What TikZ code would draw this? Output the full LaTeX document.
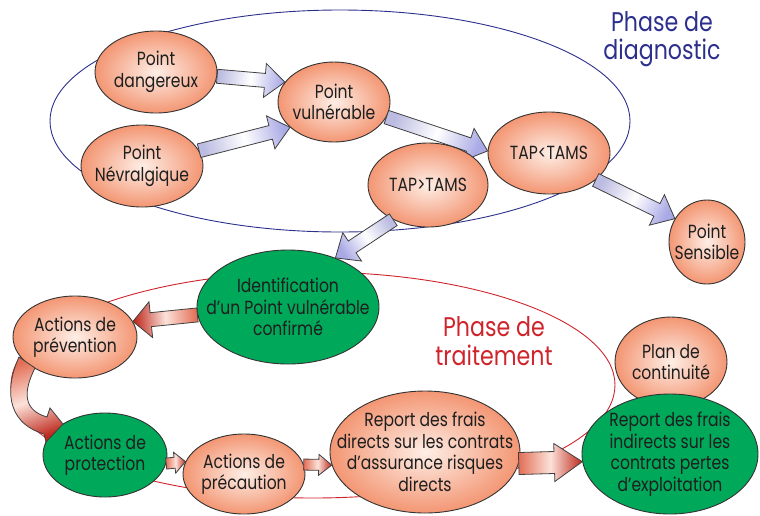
\documentclass[tikz,border=0pt]{standalone}
\usepackage{fontspec}
\setmainfont{Poppins}[FakeStretch=0.82]
\usetikzlibrary{calc,shapes.geometric}
\pgfdeclarelayer{bg}
\pgfsetlayers{bg,main}
\definecolor{salm}{RGB}{243,150,115}
\definecolor{salmin}{RGB}{254,238,230}
\definecolor{grn}{RGB}{0,168,90}
\definecolor{lav}{RGB}{188,188,226}
\definecolor{redS}{RGB}{226,110,86}
\definecolor{redE}{RGB}{190,40,28}
\definecolor{redM}{RGB}{252,226,218}
\definecolor{phblue}{RGB}{44,48,140}
\definecolor{phred}{RGB}{208,36,44}
\definecolor{txt}{RGB}{30,30,30}
\newcommand{\barrow}[6]{%
  \coordinate (bN) at ($(#3)!#6!(#2)$);
  \path[#1] ($(#2)!#4!90:(#3)$) -- ($(bN)!#4!-90:(#2)$) -- ($(bN)!#5!-90:(#2)$) -- (#3)
    -- ($(bN)!#5!90:(#2)$) -- ($(bN)!#4!90:(#2)$) -- ($(#2)!#4!-90:(#3)$) -- cycle;}
\begin{document}
\begin{tikzpicture}[x=1pt,y=-1pt,
  nd/.style={ellipse, draw=black!80, line width=0.9pt, inner sep=0pt},
  pk/.style={nd, inner color=salmin, outer color=salm},
  gr/.style={nd, fill=grn},
  lbl/.style={align=center, text=txt, inner sep=0pt, font=\fontsize{19}{21.5}\selectfont},
  phase/.style={ellipse, line width=0.9pt, inner sep=0pt},
  phlabel/.style={align=center, font=\fontsize{27}{28.5}\selectfont},
  lavar/.style={draw=black!75, line width=0.8pt, top color=lav, bottom color=lav!90!blue, middle color=white},
  redar/.style={draw=black!75, line width=0.8pt, top color=redS, bottom color=redE, middle color=redM}]
\useasboundingbox (0,0) rectangle (760,515);
\begin{pgfonlayer}{bg}
\node[phase, draw=phblue, minimum width=580, minimum height=222] (diag) at (340,121) {};
\node[phase, draw=phred, minimum width=604, minimum height=226] (trait) at (313,385) {};
\end{pgfonlayer}
\node[phlabel, text=phblue] (phd) at (662,39) {Phase de\\diagnostic};
\node[phlabel, text=phred] (pht) at (494,341) {Phase de\\traitement};

\node[pk, minimum width=122, minimum height=82, label={[lbl]center:Point\\dangereux}] (dang) at (156,72) {};
\node[pk, minimum width=122, minimum height=82, label={[lbl]center:Point\\Névralgique}] (nev) at (142,166) {};
\node[pk, minimum width=112, minimum height=80, label={[lbl]center:Point\\vulnérable}] (vul) at (334,102) {};
\node[pk, minimum width=122, minimum height=82, label={[lbl]center:TAP<TAMS}] (tapl) at (549,153) {};
\node[pk, minimum width=76, minimum height=84, label={[lbl]center:Point\\Sensible}] (sens) at (707,242) {};
\node[gr, minimum width=182, minimum height=114, label={[lbl]center:Identification\\d’un Point vulnérable\\confirmé}] (ident) at (288,307) {};
\node[pk, minimum width=124, minimum height=82, label={[lbl]center:Actions de\\prévention}] (prev) at (75,337) {};
\node[gr, minimum width=124, minimum height=84, label={[lbl]center:Actions de\\protection}] (prot) at (105,455) {};
\node[pk, minimum width=122, minimum height=80, label={[lbl]center:Actions de\\précaution}] (prec) at (244,474) {};
\node[pk, minimum width=190, minimum height=122, label={[lbl]center:Report des frais\\directs sur les contrats\\d’assurance risques\\directs}] (rdir) at (425,452) {};
\node[pk, minimum width=112, minimum height=90, label={[lbl]center:Plan de\\continuité}] (plan) at (671,362) {};
\node[gr, minimum width=176, minimum height=120, label={[lbl]center:Report des frais\\indirects sur les\\contrats pertes\\d’exploitation}] (rind) at (670,454) {};

\barrow{lavar,shading angle=69}{vul.-16}{tapl.178}{7pt}{17pt}{20pt}
\node[pk, minimum width=120, minimum height=84, label={[lbl]center:TAP>TAMS}] (tapg) at (428,185) {};

\barrow{lavar,shading angle=81}{dang.-4}{vul.158}{7pt}{17pt}{20pt}
\barrow{lavar,shading angle=104}{nev.15}{vul.-150}{7pt}{17pt}{20pt}
\barrow{lavar,shading angle=63}{tapl.-30}{sens.144}{7pt}{17pt}{20pt}
\barrow{lavar,shading angle=303}{tapg.225}{ident.46}{7pt}{17pt}{20pt}
\barrow{redar,shading angle=274}{ident.185}{prev.15}{7pt}{18pt}{18pt}
\barrow{redar,shading angle=90}{prot.-8}{prec.168}{5.5pt}{10.5pt}{11pt}
\barrow{redar,shading angle=90}{prec.9}{rdir.188}{5.5pt}{10.5pt}{13pt}
\barrow{redar,shading angle=90}{rdir.-7}{rind.185}{11pt}{19pt}{28pt}
\path[redar, shading angle=20] (19,357) .. controls (6,385) and (4,422) .. (44,434) -- (46,442) -- (63,424) -- (50,408) -- (47,417) .. controls (23,410) and (23,392) .. (35,368) -- cycle;
\end{tikzpicture}
\end{document}
